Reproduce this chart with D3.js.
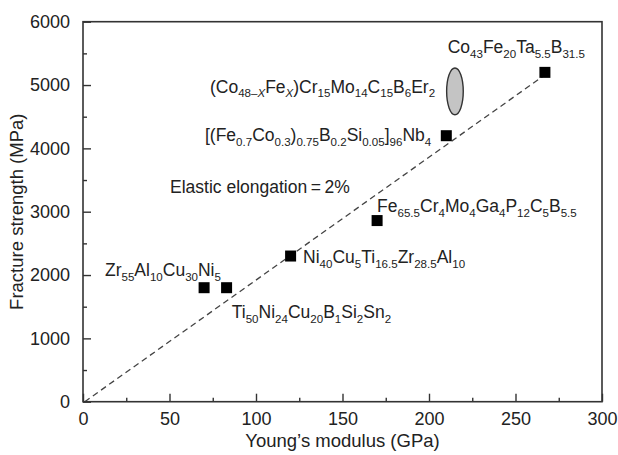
<!DOCTYPE html>
<html><head><meta charset="utf-8">
<script src="https://cdn.jsdelivr.net/npm/d3@7"></script>
<style>
html,body{margin:0;padding:0;background:#fff;}
svg text{font-family:"Liberation Sans",Arial,sans-serif;fill:#222;}
</style></head>
<body><svg id="c" width="618" height="455"></svg>
<script>
// ---- data ----
const alloyNames = ["Zr55Al10Cu30Ni5","Ti50Ni24Cu20B1Si2Sn2","Ni40Cu5Ti16.5Zr28.5Al10","Fe65.5Cr4Mo4Ga4P12C5B5.5","[(Fe0.7Co0.3)0.75B0.2Si0.05]96Nb4","Co43Fe20Ta5.5B31.5"];
const youngsModulus = [70, 83, 120, 170, 210, 267];      // GPa
const fractureStrength = [1800, 1800, 2300, 2860, 4200, 5200]; // MPa
// (Co48-xFex)Cr15Mo14C15B6Er2 range shown as ellipse
const ellipseCenter = [215, 4900];
const ellipseRadius = [4.8, 370];
// elastic elongation 2% reference line
const refLine = [[1, 0], [267, 5160]];
const xTicks = [0, 50, 100, 150, 200, 250, 300];
const xMinor = [25, 75, 125, 175, 225, 275];
const yTicks = [0, 1000, 2000, 3000, 4000, 5000, 6000];
const yMinor = [500, 1500, 2500, 3500, 4500, 5500];
const xTitle = "Young\u2019s modulus (GPa)";
const yTitle = "Fracture strength (MPa)";
// annotation labels: "_{..}" subscript, "*..*" italic
const labelText = [
  "Co_{43}Fe_{20}Ta_{5.5}B_{31.5}",
  "(Co_{48\u2013*X*}Fe_{*X*})Cr_{15}Mo_{14}C_{15}B_{6}Er_{2}",
  "[(Fe_{0.7}Co_{0.3})_{0.75}B_{0.2}Si_{0.05}]_{96}Nb_{4}",
  "Elastic elongation\u2009=\u20092%",
  "Fe_{65.5}Cr_{4}Mo_{4}Ga_{4}P_{12}C_{5}B_{5.5}",
  "Ni_{40}Cu_{5}Ti_{16.5}Zr_{28.5}Al_{10}",
  "Zr_{55}Al_{10}Cu_{30}Ni_{5}",
  "Ti_{50}Ni_{24}Cu_{20}B_{1}Si_{2}Sn_{2}"
];
const labelE = [210.8, 73.4, 70.5, 50.3, 170, 127.2, 12.7, 86];
const labelS = [5505, 4882, 4116, 3295, 2995, 2190, 1979, 1314];

// ---- chart ----
const svg = d3.select("#c");
const M = {l:83, r:602, t:21.7, b:401.7};
const x = d3.scaleLinear().domain([0,300]).range([M.l, M.r]);
const y = d3.scaleLinear().domain([0,6000]).range([M.b, M.t]);
const axisColor = "#333";

const g = svg.append("g");
// reference line
g.append("line")
  .attr("x1", x(refLine[0][0])).attr("y1", y(refLine[0][1]))
  .attr("x2", x(refLine[1][0])).attr("y2", y(refLine[1][1]))
  .attr("stroke", "#444").attr("stroke-width", 1.3).attr("stroke-dasharray", "6,4");

// axes with inward ticks
function addAxis(axis, transform){
  const a = g.append("g").attr("transform", transform).call(axis);
  a.select(".domain").remove();
  a.selectAll("line").attr("stroke", axisColor).attr("stroke-width", 1.4);
  return a;
}
const xa = addAxis(d3.axisBottom(x).tickValues(xTicks).tickFormat(d3.format("d")).tickSizeInner(-8).tickSizeOuter(0).tickPadding(18), `translate(0,${M.b})`);
xa.selectAll("text").attr("font-size", 18).attr("fill", "#222");
addAxis(d3.axisBottom(x).tickValues(xMinor).tickSizeInner(-4).tickSizeOuter(0).tickFormat(""), `translate(0,${M.b})`);
const ya = addAxis(d3.axisLeft(y).tickValues(yTicks).tickFormat(d3.format("d")).tickSizeInner(-8).tickSizeOuter(0).tickPadding(13), `translate(${M.l},0)`);
ya.selectAll("text").attr("font-size", 18).attr("fill", "#222");
addAxis(d3.axisLeft(y).tickValues(yMinor).tickSizeInner(-4).tickSizeOuter(0).tickFormat(""), `translate(${M.l},0)`);
xa.selectAll("text").attr("dy", "0.3em");

// frame
g.append("rect").attr("x", M.l).attr("y", M.t).attr("width", M.r-M.l).attr("height", M.b-M.t)
  .attr("fill", "none").attr("stroke", axisColor).attr("stroke-width", 1.6);

// ellipse
g.append("ellipse")
  .attr("cx", x(ellipseCenter[0])).attr("cy", y(ellipseCenter[1]))
  .attr("rx", x(ellipseCenter[0]+ellipseRadius[0]) - x(ellipseCenter[0]))
  .attr("ry", y(ellipseCenter[1]-ellipseRadius[1]) - y(ellipseCenter[1]))
  .attr("fill", "#c4c4c4").attr("stroke", "#333").attr("stroke-width", 1.4);

// square points
const sq = 11;
g.selectAll("rect.pt").data(youngsModulus.map((e,i)=>({e, s:fractureStrength[i], n:alloyNames[i]})))
  .enter().append("rect").attr("class","pt")
  .attr("x", d=>x(d.e)-sq/2).attr("y", d=>y(d.s)-sq/2)
  .attr("width", sq).attr("height", sq).attr("fill", "#000");

// rich labels
function richText(sel, str, size){
  const subSize = size*0.66, shift = 4.5;
  const re = /_\{([^}]*)\}|([^_]+)/g;
  let m, inSub = false;
  const parts = [];
  while((m = re.exec(str))){
    if(m[1] !== undefined) parts.push({t:m[1], sub:true});
    else parts.push({t:m[2], sub:false});
  }
  parts.forEach(p=>{
    const pieces = p.t.split("*");
    pieces.forEach((pc, k)=>{
      if(pc === "") return;
      const ts = sel.append("tspan").text(pc)
        .attr("font-size", p.sub ? subSize : size);
      if(k % 2 === 1) ts.attr("font-style", "italic");
      if(p.sub && !inSub){ ts.attr("dy", shift); inSub = true; }
      else if(!p.sub && inSub){ ts.attr("dy", -shift); inSub = false; }
    });
  });
}
labelText.forEach((t,i)=>{
  const tx = g.append("text").attr("x", x(labelE[i])).attr("y", y(labelS[i]));
  richText(tx, t, 17.5);
});

// axis titles
g.append("text").attr("x", (M.l+M.r)/2).attr("y", 447).attr("text-anchor","middle")
  .attr("font-size", 18.5).text(xTitle);
g.append("text").attr("transform", `translate(23,${(M.t+M.b)/2}) rotate(-90)`)
  .attr("text-anchor","middle").attr("font-size", 18.5).text(yTitle);
</script>
</body></html>
